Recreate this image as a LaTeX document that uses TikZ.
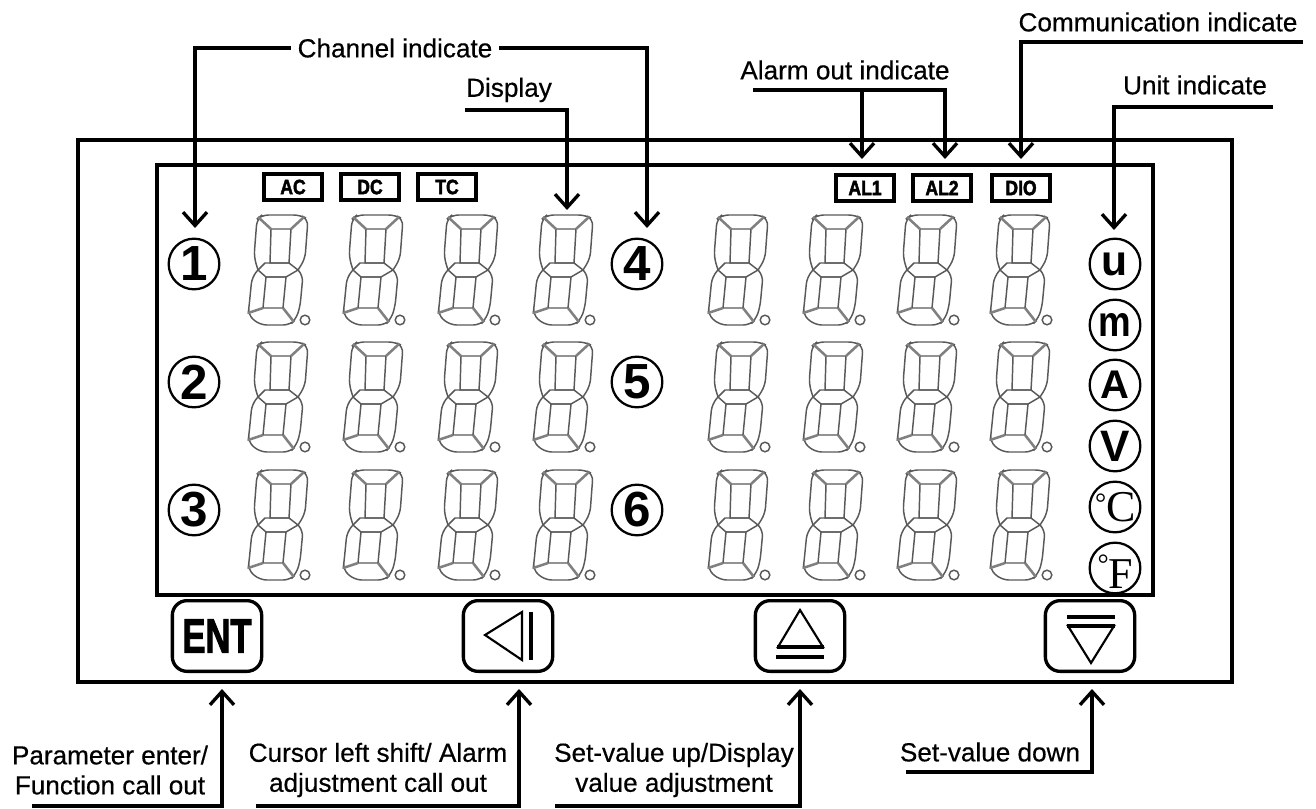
\documentclass[tikz,border=0pt]{standalone}
\usepackage{fontspec}
\setmainfont{Liberation Sans}
\newfontfamily\serifunit{Liberation Serif}
\newfontfamily\labelface[FakeBold=0.5]{Liberation Sans}
\newfontfamily\heavyface[FakeBold=2.5]{Liberation Sans Bold}
\usetikzlibrary{
	arrows.meta,
	positioning
}

\newcommand{\labelfont}{\labelface\fontsize{19.6}{22.5}\selectfont}
\newcommand{\degmark}{\llap{\raisebox{7pt}{\fontsize{21}{21}\selectfont °}}}

\tikzset{
	frame/.style={draw,line width=3pt},
	callout/.style={line width=2.5pt,-{Straight Barb[length=10pt,width=18pt]}},
	labeltext/.style={font=\labelfont,inner sep=0pt,align=center},
	indicator/.style={draw,line width=3pt,minimum width=44pt,minimum height=19pt,inner sep=0pt,font=\heavyface\fontsize{15.5}{15.5}\selectfont},
	numeral/.style={draw,circle,line width=1.7pt,minimum size=38pt,inner sep=0pt,font=\bfseries\fontsize{37}{37}\selectfont},
	unit/.style={draw,circle,line width=1.7pt,minimum size=38pt,inner sep=0pt,font=\bfseries\fontsize{30}{30}\selectfont},
	serifmark/.style={font=\serifunit\fontsize{33}{33}\selectfont},
	keybox/.style={draw,line width=2.5pt,rounded corners=11pt,minimum width=67pt,minimum height=53pt,inner sep=0pt},
	segment/.style={draw=black!65,line width=1.1pt},
	joint/.style={draw=black!50,line width=1.9pt},
	digit/.pic={
		\draw[segment,rounded corners=5pt] (10,55)--(6,42)--(9,4)--(14,0)--(52,0)--(60,4)--(57,44)--(50,55);
		\draw[segment,rounded corners=5pt] (10,55)--(4,62)--(1,92)--(0,100)--(12,110)--(42,110)--(48,104)--(52,92)--(55,60)--(50,55);
		\draw[segment] (23,14)--(43,14)--(41,48)--(22,48)--cycle;
		\draw[segment] (18,62)--(38,62)--(35,93)--(15,93)--cycle;
		\draw[segment] (10,55)--(17,48)--(41,48)--(50,55)--(38,62)--(18,62)--cycle;
		\draw[joint] (10,2)--(23,14);
		\draw[joint] (56,2)--(43,14);
		\draw[joint] (0,98)--(15,93);
		\draw[joint] (46,107)--(35,93);
		\draw[black!65,line width=1.1pt] (57,105) circle (3.6pt);
	}
}

\begin{document}
\begin{tikzpicture}[x=0.75pt,y=-0.75pt]

	\useasboundingbox (0,0) rectangle (1316,809);

	\draw[frame] (78,140) rectangle (1232,682);
	\draw[frame] (157,165) rectangle (1153,595);

	% indicator boxes
	\node[indicator] (ac) at (293,187){\scalebox{0.85}[1]{AC}};
	\node[indicator] (dc) at (370,187){\scalebox{0.85}[1]{DC}};
	\node[indicator] (tc) at (447,187){\scalebox{0.85}[1]{TC}};
	\node[indicator] (alone) at (865,188){\scalebox{0.85}[1]{AL1}};
	\node[indicator] (altwo) at (942,188){\scalebox{0.85}[1]{AL2}};
	\node[indicator] (dio) at (1021,188){\scalebox{0.85}[1]{DIO}};

	% digits
	\foreach \row in {215,342,470}{
		\foreach \col in {248,343,438,533,708,803,897,990}{
			\pic at (\col,\row) {digit};
		}
	}

	\node[numeral] (one) at (194,264){1};
	\node[numeral] (two) at (194,382){2};
	\node[numeral] (three) at (194,510){3};
	\node[numeral] (four) at (637,264){4};
	\node[numeral] (five) at (637,382){5};
	\node[numeral] (six) at (637,510){6};

	\node[unit,font=\bfseries\fontsize{32}{32}\selectfont] (micro) at (1115,264){u};
	\node[unit,font=\bfseries\fontsize{32}{32}\selectfont] (milli) at (1115,325){\scalebox{0.86}[1]{m}};
	\node[unit] (amp) at (1115,385){A};
	\node[unit,font=\bfseries\fontsize{33}{33}\selectfont] (volt) at (1115,446){V};
	\node[unit,serifmark] (celsius) at (1115,507){\hspace*{9pt}\degmark C};
	\node[unit,serifmark] (fahren) at (1115,568){\hspace*{9pt}\degmark\raisebox{-4pt}[22pt][0pt]{F}};

	% keys
	\node[keybox,font=\heavyface\fontsize{36}{36}\selectfont] (enter) at (217,636){\scalebox{0.72}[1]{ENT}};
	\node[keybox] (shift) at (508,636){};
	\node[keybox] (up) at (800,636){};
	\node[keybox] (down) at (1090,636){};

	\draw[line width=1.6pt] (522,612)--(485,635)--(522,660)--cycle;
	\draw[line width=3pt] (531,612)--(531,660);

	\draw[line width=1.6pt] (800,610)--(778,647)--(823,647)--cycle;
	\draw[line width=2.6pt] (777,647)--(824,647);
	\draw[line width=3.6pt] (776,657)--(824,657);

	\draw[line width=3.6pt] (1067,617)--(1115,617);
	\draw[line width=2.6pt] (1067,626)--(1115,626);
	\draw[line width=1.6pt] (1068,626)--(1114,626)--(1091,663)--cycle;

	% top labels
	\node[labeltext,inner xsep=5pt] (chanlabel) at (395,48){Channel indicate};
	\node[labeltext] (displabel) at (509,90){Display};
	\node[labeltext] (alarmlabel) at (845,70){Alarm out indicate};
	\node[labeltext] (commlabel) at (1158,22){Communication indicate};
	\node[labeltext] (unitlabel) at (1195,85){Unit indicate};

	\coordinate (tipone) at (195,228);
	\coordinate (tipfour) at (647,228);
	\coordinate (tipdisp) at (567,210);
	\coordinate (tipalone) at (862,159);
	\coordinate (tipaltwo) at (945,159);
	\coordinate (tipcomm) at (1021,159);
	\coordinate (tipunit) at (1114,230);
	\coordinate (dispstart) at (465,110);
	\coordinate (alarmstart) at (753,90);
	\coordinate (commstart) at (1303,42);
	\coordinate (unitstart) at (1273,107);

	\draw[callout] (chanlabel.west) -| (tipone);
	\draw[callout] (chanlabel.east) -| (tipfour);
	\draw[callout] (dispstart) -| (tipdisp);
	\draw[callout] (alarmstart) -| (tipaltwo);
	\draw[callout] (tipalone |- alarmstart) -- (tipalone);
	\draw[callout] (commstart) -| (tipcomm);
	\draw[callout] (unitstart) -| (tipunit);

	% bottom labels
	\node[labeltext] (enterlabel) at (110,770){Parameter enter/\\Function call out};
	\node[labeltext] (shiftlabel) at (378,770){Cursor left shift/ Alarm\\adjustment call out};
	\node[labeltext] (uplabel) at (674,770){Set-value up/Display\\value adjustment};
	\node[labeltext] (downlabel) at (990,752){Set-value down};

	\coordinate (tipenter) at (222,689);
	\coordinate (tipshift) at (519,689);
	\coordinate (tipup) at (800,689);
	\coordinate (tipdown) at (1092,689);
	\coordinate (enterstart) at (32,806);
	\coordinate (shiftstart) at (256,806);
	\coordinate (upstart) at (555,806);
	\coordinate (downstart) at (906,772);

	\draw[callout] (enterstart) -| (tipenter);
	\draw[callout] (shiftstart) -| (tipshift);
	\draw[callout] (upstart) -| (tipup);
	\draw[callout] (downstart) -| (tipdown);

\end{tikzpicture}
\end{document}
